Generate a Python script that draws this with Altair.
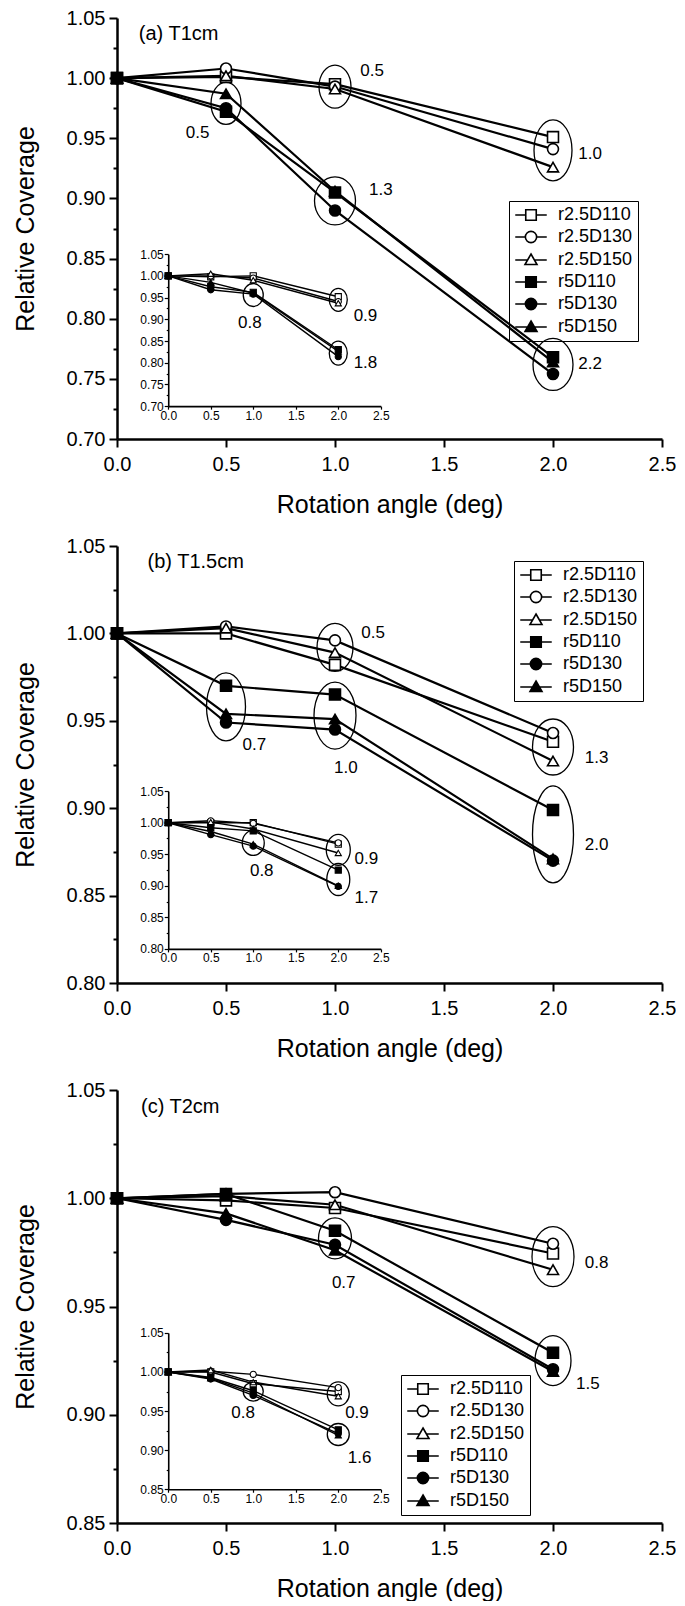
import altair as alt
import pandas as pd

FONT = "Liberation Sans"

SERIES = ["r2.5D110", "r2.5D130", "r2.5D150", "r5D110", "r5D130", "r5D150"]
SHAPES = ["square", "circle", "triangle-up", "square", "circle", "triangle-up"]
FILLS = ["white", "white", "white", "black", "black", "black"]
ANGLES = [0.0, 0.5, 1.0, 2.0]
X_TICKS = [0.0, 0.5, 1.0, 1.5, 2.0, 2.5]

# ---------------- (a) T1cm ----------------
A_MAIN = [
    [1.000, 1.001, 0.995, 0.951],
    [1.000, 1.008, 0.993, 0.941],
    [1.000, 1.002, 0.991, 0.926],
    [1.000, 0.972, 0.905, 0.768],
    [1.000, 0.975, 0.890, 0.754],
    [1.000, 0.987, 0.906, 0.764],
]
A_INSET = [
    [1.000, 0.998, 1.000, 0.952],
    [1.000, 1.000, 0.995, 0.941],
    [1.000, 1.005, 0.990, 0.937],
    [1.000, 0.975, 0.962, 0.830],
    [1.000, 0.968, 0.958, 0.814],
    [1.000, 0.985, 0.960, 0.826],
]
A_MAIN_NOTES = [("0.5", 1.17, 1.006), ("0.5", 0.37, 0.954), ("1.3", 1.21, 0.907),
                ("1.0", 2.17, 0.937), ("2.2", 2.17, 0.762)]
A_INSET_NOTES = [("0.8", 0.96, 0.891), ("0.9", 2.32, 0.907), ("1.8", 2.32, 0.800)]
A_MAIN_RINGS = [(0.5, 0.979, 30, 42), (1.0, 0.993, 32, 43), (1.0, 0.898, 41, 48),
                (2.0, 0.940, 38, 61), (2.0, 0.762, 40, 52)]
A_INSET_RINGS = [(1.0, 0.956, 20, 23), (2.0, 0.945, 18, 23), (2.0, 0.822, 18, 24)]

# ---------------- (b) T1.5cm ----------------
B_MAIN = [
    [1.000, 1.000, 0.982, 0.938],
    [1.000, 1.004, 0.996, 0.943],
    [1.000, 1.003, 0.989, 0.927],
    [1.000, 0.970, 0.965, 0.899],
    [1.000, 0.949, 0.945, 0.870],
    [1.000, 0.954, 0.951, 0.871],
]
B_INSET = [
    [1.000, 1.000, 1.000, 0.966],
    [1.000, 1.003, 0.999, 0.968],
    [1.000, 1.001, 0.990, 0.952],
    [1.000, 0.992, 0.987, 0.925],
    [1.000, 0.981, 0.963, 0.899],
    [1.000, 0.986, 0.966, 0.900],
]
B_MAIN_NOTES = [("0.5", 1.175, 1.000), ("0.7", 0.63, 0.936), ("1.0", 1.05, 0.923),
                ("1.3", 2.20, 0.929), ("2.0", 2.20, 0.879)]
B_INSET_NOTES = [("0.8", 1.10, 0.923), ("0.9", 2.33, 0.943), ("1.7", 2.33, 0.880)]
B_MAIN_RINGS = [(0.5, 0.958, 39, 68), (1.0, 0.992, 36, 48), (1.0, 0.953, 42, 67),
                (2.0, 0.935, 41, 56), (2.0, 0.885, 41, 97)]
B_INSET_RINGS = [(1.0, 0.968, 22, 25), (2.0, 0.957, 24, 31), (2.0, 0.910, 23, 32)]

# ---------------- (c) T2cm ----------------
C_MAIN = [
    [1.000, 0.999, 0.9955, 0.9745],
    [1.000, 1.002, 1.0028, 0.979],
    [1.000, 1.001, 0.997, 0.967],
    [1.000, 1.002, 0.985, 0.9286],
    [1.000, 0.990, 0.9785, 0.921],
    [1.000, 0.993, 0.976, 0.920],
]
C_INSET = [
    [1.000, 1.000, 0.985, 0.975],
    [1.000, 1.001, 0.997, 0.980],
    [1.000, 1.0025, 0.987, 0.969],
    [1.000, 0.993, 0.976, 0.926],
    [1.000, 0.991, 0.970, 0.921],
    [1.000, 0.992, 0.973, 0.919],
]
C_MAIN_NOTES = [("0.7", 1.04, 0.961), ("0.8", 2.20, 0.970), ("1.5", 2.16, 0.914)]
C_INSET_NOTES = [("0.8", 0.88, 0.947), ("0.9", 2.22, 0.947), ("1.6", 2.25, 0.890)]
C_MAIN_RINGS = [(1.0, 0.9815, 33, 41), (2.0, 0.973, 42, 60), (2.0, 0.925, 36, 50)]
C_INSET_RINGS = [(1.0, 0.975, 20, 19), (2.0, 0.972, 22, 24), (2.0, 0.920, 22, 22)]

# ---------------- layout ----------------
W = 545
INSET_X = (0.094, 0.484)     # fractions of plot width
INSET_Y = (0.561, 0.922)     # fractions of plot height (top, bottom)

LEG_PATHS = [
    "M -2.1 0 L -0.7 0 M 0.7 0 L 2.1 0 M -0.7 -0.7 L 0.7 -0.7 L 0.7 0.7 L -0.7 0.7 Z",
    "M -2.1 0 L -0.75 0 M 0.75 0 L 2.1 0 M 0.75 0 C 0.75 0.414 0.414 0.75 0 0.75 "
    "C -0.414 0.75 -0.75 0.414 -0.75 0 C -0.75 -0.414 -0.414 -0.75 0 -0.75 "
    "C 0.414 -0.75 0.75 -0.414 0.75 0 Z",
    "M -2.1 0 L -0.46 0 M 0.46 0 L 2.1 0 M 0 -0.8 L 0.8 0.6 L -0.8 0.6 Z",
]
LEG_PATHS = LEG_PATHS * 2

MAJOR = "abs(datum.value*20 - round(datum.value*20)) < 0.001"


def ellipse_path(a):
    k = 0.5523
    return (f"M 0 -1 C {k*a:.4f} -1 {a:.4f} {-k:.4f} {a:.4f} 0 "
            f"C {a:.4f} {k:.4f} {k*a:.4f} 1 0 1 "
            f"C {-k*a:.4f} 1 {-a:.4f} {k:.4f} {-a:.4f} 0 "
            f"C {-a:.4f} {-k:.4f} {-k*a:.4f} -1 0 -1 Z")


def long_df(vals):
    rows = []
    for s, shp, fil, ys in zip(SERIES, SHAPES, FILLS, vals):
        for x, y in zip(ANGLES, ys):
            rows.append({"series": s, "shp": shp, "fil": fil, "x": x, "y": y})
    return pd.DataFrame(rows)


def ring_df(rings):
    return pd.DataFrame([{"x": x, "y": y, "path": ellipse_path(w / h), "sz": h * h}
                         for x, y, w, h in rings])


def note_df(notes):
    return pd.DataFrame([{"label": t, "x": x, "y": y} for t, x, y in notes])


def yticks(lo, hi):
    n = int(round((hi - lo) / 0.025))
    return [round(lo + 0.025 * i, 3) for i in range(n + 1)]


def group(vals, rings, notes, xscale, yscale, xaxis, yaxis, lw, psize, psw,
          fsize, title=None):
    xa = alt.X("x:Q", scale=xscale, axis=xaxis)
    ya = alt.Y("y:Q", scale=yscale, axis=yaxis)
    df = long_df(vals)
    lines = alt.Chart(df).mark_line(color="black", strokeWidth=lw).encode(
        x=xa, y=ya, detail="series:N")
    pts = alt.Chart(df).mark_point(filled=True, stroke="black", strokeWidth=psw,
                                   size=psize, opacity=1).encode(
        x=xa, y=ya,
        shape=alt.Shape("shp:N", scale=None),
        fill=alt.Fill("fil:N", scale=None))
    ell = alt.Chart(ring_df(rings)).mark_point(filled=False, color="black",
                                               strokeWidth=1.3, opacity=1).encode(
        x=xa, y=ya,
        shape=alt.Shape("path:N", scale=None),
        size=alt.Size("sz:Q", scale=None))
    txt = alt.Chart(note_df(notes)).mark_text(font=FONT, fontSize=fsize,
                                              color="black").encode(
        x=xa, y=ya, text="label:N")
    layers = [lines, pts, ell, txt]
    if title is not None:
        ttl = alt.Chart(note_df([title])).mark_text(
            font=FONT, fontSize=20, color="black", align="left",
            baseline="middle").encode(x=xa, y=ya, text="label:N")
        layers.append(ttl)
    return alt.layer(*layers)


def panel(main_vals, inset_vals, lo, main_rings, inset_rings, main_notes,
          inset_notes, title, H, leg_x, leg_y):
    hi = 1.05
    main_x_scale = alt.Scale(domain=[0, 2.5], nice=False, zero=False)
    main_y_scale = alt.Scale(domain=[lo, hi], nice=False, zero=False)
    main_x_axis = alt.Axis(orient="bottom", values=X_TICKS, format=".1f",
                           tickSize=8, tickWidth=2, domainWidth=2.5,
                           labelFontSize=20, labelPadding=7,
                           title="Rotation angle (deg)", titleFontSize=25,
                           titlePadding=18, labelFlush=False, grid=False)
    main_y_axis = alt.Axis(orient="left", values=yticks(lo, hi), format=".2f",
                           labelExpr=MAJOR + " ? datum.label : ''",
                           tickSize={"condition": {"test": MAJOR, "value": 8},
                                     "value": 4},
                           tickWidth=2, domainWidth=2.5, labelFontSize=20,
                           labelPadding=4, title="Relative Coverage",
                           titleFontSize=25, titlePadding=28, labelFlush=False,
                           grid=False)
    x0, x1 = INSET_X[0] * W, INSET_X[1] * W
    ytop, ybot = INSET_Y[0] * H, INSET_Y[1] * H
    in_x_scale = alt.Scale(domain=[0, 2.5], range=[x0, x1], nice=False, zero=False)
    in_y_scale = alt.Scale(domain=[lo, hi], range=[ybot, ytop], nice=False,
                           zero=False)
    in_x_axis = alt.Axis(orient="bottom", offset=-(H - ybot), values=X_TICKS,
                         format=".1f", tickSize=3, tickWidth=1.2, domainWidth=1.6,
                         labelFontSize=12, labelPadding=1, title=None,
                         labelFlush=False, grid=False)
    in_y_axis = alt.Axis(orient="left", offset=-x0, values=yticks(lo, hi),
                         format=".2f", labelExpr=MAJOR + " ? datum.label : ''",
                         tickSize={"condition": {"test": MAJOR, "value": 4},
                                   "value": 2},
                         tickWidth=1.2, domainWidth=1.6, labelFontSize=12,
                         labelPadding=1, title=None, labelFlush=False, grid=False)

    main = group(main_vals, main_rings, main_notes, main_x_scale, main_y_scale,
                 main_x_axis, main_y_axis, 2.2, 120, 1.6, 17, title)
    inset = group(inset_vals, inset_rings, inset_notes, in_x_scale, in_y_scale,
                  in_x_axis, in_y_axis, 1.4, 38, 1.1, 17)

    leg = alt.Legend(orient="none", legendX=leg_x, legendY=leg_y, title=None,
                     symbolSize=225, symbolStrokeWidth=1.6,
                     symbolStrokeColor="black", labelFont=FONT, labelFontSize=18,
                     labelColor="black", labelOffset=18, symbolOffset=8,
                     rowPadding=4, padding=5, strokeColor="black")
    legend_layer = alt.Chart(pd.DataFrame({"series": SERIES})).transform_filter(
        "false").mark_point(filled=True, stroke="black", strokeWidth=1.6,
                            opacity=1).encode(
        shape=alt.Shape("series:N", scale=alt.Scale(domain=SERIES, range=LEG_PATHS),
                        legend=leg),
        fill=alt.Fill("series:N", scale=alt.Scale(domain=SERIES, range=FILLS),
                      legend=leg))

    return alt.layer(main, inset, legend_layer).resolve_scale(
        x="independent", y="independent").properties(width=W, height=H)


pa = panel(A_MAIN, A_INSET, 0.70, A_MAIN_RINGS, A_INSET_RINGS, A_MAIN_NOTES,
           A_INSET_NOTES, ("(a) T1cm", 0.10, 1.037), 421, 392, 183)
pb = panel(B_MAIN, B_INSET, 0.80, B_MAIN_RINGS, B_INSET_RINGS, B_MAIN_NOTES,
           B_INSET_NOTES, ("(b) T1.5cm", 0.14, 1.041), 437, 397, 15)
pc = panel(C_MAIN, C_INSET, 0.85, C_MAIN_RINGS, C_INSET_RINGS, C_MAIN_NOTES,
           C_INSET_NOTES, ("(c) T2cm", 0.11, 1.042), 433, 284, 285)

chart = alt.vconcat(pa, pb, pc, spacing=19).resolve_scale(
    shape="independent", fill="independent").resolve_legend(
    shape="independent", fill="independent").properties(
    padding={"left": 5, "top": 0, "right": 0, "bottom": 0}
).configure_view(stroke=None).configure_axis(
    labelFont=FONT, titleFont=FONT, labelColor="black", titleColor="black",
    domainColor="black", tickColor="black", titleFontWeight="normal"
)

chart.save("out.html", embed_options={"renderer": "svg", "actions": False})
